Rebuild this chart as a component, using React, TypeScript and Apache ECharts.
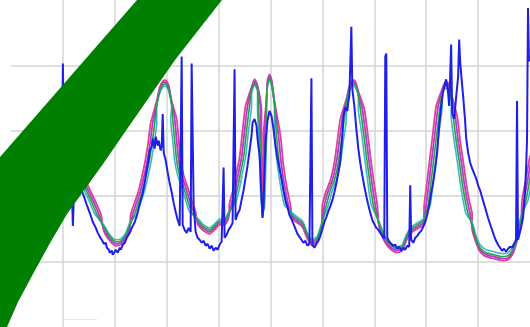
import React, { useEffect, useRef } from "react";
import * as echarts from "echarts";

type Pt = [number, number];

// Axis settings (value units)
const xMax = 520;
const xStep = 52;
const yMax = 330;
const yStep = 66;

// Outer (pink) trace
const pinkTrace: Pt[] = [
  [42,216],[52,198],[62,178],[70,160],[77,143],[84,128],[90,114],[93,97],[99,87],[105,82],
  [110,83],[115,89],[119,99],[120,114],[124,126],[128,138],[131,151],[134,165],[137,183],[140,206],
  [146,228],[149,242],[152,248],[155,249],[158,244],[161,228],[166,210],[168,188],[170,168],[173,153],
  [177,141],[181,128],[185,116],[187,104],[193,97],[199,94],[204,98],[209,103],[214,103],[218,110],
  [219,125],[223,140],[226,156],[229,171],[232,198],[235,223],[241,242],[244,250],[247,244],[251,218],
  [251,178],[252,138],[252,111],[252,120],[253,153],[253,193],[256,230],[257,249],[259,255],[261,250],
  [264,228],[270,193],[273,163],[276,143],[280,123],[282,109],[287,105],[292,101],[297,89],[302,82],
  [307,86],[311,98],[312,123],[316,138],[320,148],[324,166],[327,188],[330,210],[336,230],[339,243],
  [342,249],[345,248],[348,238],[354,220],[357,198],[360,173],[363,150],[367,123],[369,100],[375,85],
  [381,78],[387,75],[392,77],[396,87],[401,95],[407,99],[413,103],[414,123],[417,148],[420,173],
  [423,198],[426,223],[432,240],[435,247],[438,246],[441,236],[447,213],[450,188],[453,168],[456,146],
  [459,128],[462,114],[462,99],[466,85],[470,76],[476,71],[484,69],[492,67],[498,68],[503,74],
  [507,87],[511,105],[512,128],[516,150],[520,173]
];

// Magenta trace
const magentaTrace: Pt[] = [
  [40,216],[50,198],[60,178],[68,160],[75,143],[82,128],[88,114],[93,99],[99,89],[105,84],
  [110,85],[115,91],[119,101],[122,114],[126,126],[130,138],[133,151],[136,165],[139,183],[142,206],
  [146,226],[149,240],[152,246],[155,247],[158,242],[161,226],[164,210],[166,188],[168,168],[171,153],
  [175,141],[179,128],[183,116],[187,106],[193,99],[199,96],[204,100],[209,105],[214,105],[218,112],
  [221,125],[225,140],[228,156],[231,171],[234,198],[237,223],[241,240],[244,248],[247,242],[250,218],
  [250,178],[251,138],[252,113],[253,120],[254,153],[254,193],[256,228],[257,247],[259,253],[261,248],
  [264,226],[268,193],[271,163],[274,143],[278,123],[282,111],[287,107],[292,103],[297,91],[302,84],
  [307,88],[311,100],[314,123],[318,138],[322,148],[326,166],[329,188],[332,210],[336,228],[339,241],
  [342,247],[345,246],[348,236],[352,220],[355,198],[358,173],[361,150],[365,123],[369,102],[375,87],
  [381,80],[387,77],[392,79],[396,89],[401,97],[407,101],[413,105],[416,123],[419,148],[422,173],
  [425,198],[428,223],[432,238],[435,245],[438,244],[441,234],[445,213],[448,188],[451,168],[454,146],
  [457,128],[460,114],[462,101],[466,87],[470,78],[476,73],[484,71],[492,69],[498,70],[503,76],
  [507,89],[511,107],[514,128],[518,150],[522,173]
];

// Green trace
const greenTrace: Pt[] = [
  [38,216],[48,198],[58,178],[66,160],[73,143],[80,128],[86,114],[93,101],[99,91],[105,86],
  [110,87],[115,93],[119,103],[124,114],[128,126],[132,138],[135,151],[138,165],[141,183],[144,206],
  [146,224],[149,238],[152,244],[155,245],[158,240],[161,224],[162,210],[164,188],[166,168],[169,153],
  [173,141],[177,128],[181,116],[187,108],[193,101],[199,98],[204,102],[209,107],[214,107],[218,114],
  [223,125],[227,140],[230,156],[233,171],[236,198],[239,223],[241,238],[244,246],[247,240],[248,218],
  [250,178],[251,138],[252,115],[253,120],[254,153],[256,193],[256,226],[257,245],[259,251],[261,246],
  [264,224],[266,193],[269,163],[272,143],[276,123],[282,113],[287,109],[292,105],[297,93],[302,86],
  [307,90],[311,102],[316,123],[320,138],[324,148],[328,166],[331,188],[334,210],[336,226],[339,239],
  [342,245],[345,244],[348,234],[350,220],[353,198],[356,173],[359,150],[363,123],[369,104],[375,89],
  [381,82],[387,79],[392,81],[396,91],[401,99],[407,103],[413,107],[418,123],[421,148],[424,173],
  [427,198],[430,223],[432,236],[435,243],[438,242],[441,232],[443,213],[446,188],[449,168],[452,146],
  [455,128],[458,114],[462,103],[466,89],[470,80],[476,75],[484,73],[492,71],[498,72],[503,78],
  [507,91],[511,109],[516,128],[520,150],[524,173]
];

// Cyan (inner) trace
const cyanTrace: Pt[] = [
  [36,216],[46,198],[56,178],[64,160],[71,143],[78,128],[84,114],[93,103],[99,93],[105,88],
  [110,89],[115,95],[119,105],[126,114],[130,126],[134,138],[137,151],[140,165],[143,183],[146,206],
  [146,222],[149,236],[152,242],[155,243],[158,238],[161,222],[160,210],[162,188],[164,168],[167,153],
  [171,141],[175,128],[179,116],[187,110],[193,103],[199,100],[204,104],[209,109],[214,109],[218,116],
  [225,125],[229,140],[232,156],[235,171],[238,198],[241,223],[241,236],[244,244],[247,238],[247,218],
  [249,178],[250,138],[252,117],[254,120],[255,153],[256,193],[256,224],[257,243],[259,249],[261,244],
  [264,222],[264,193],[267,163],[270,143],[274,123],[282,115],[287,111],[292,107],[297,95],[302,88],
  [307,92],[311,104],[318,123],[322,138],[326,148],[330,166],[333,188],[336,210],[336,224],[339,237],
  [342,243],[345,242],[348,232],[348,220],[351,198],[354,173],[357,150],[361,123],[369,106],[375,91],
  [381,84],[387,81],[392,83],[396,93],[401,101],[407,105],[413,109],[420,123],[423,148],[426,173],
  [429,198],[432,223],[432,234],[435,241],[438,240],[441,230],[441,213],[444,188],[447,168],[450,146],
  [453,128],[456,114],[462,106],[466,92],[470,83],[476,78],[484,76],[492,74],[498,75],[503,81],
  [507,94],[511,112],[518,128],[522,150],[526,173]
];

// Noisy measured (blue) trace
const blueTrace: Pt[] = [
  [47,188],[51,178],[52,266],[53,173],[57,158],[61,138],[62,102],[63,133],
  [67,143],[72,135],[76,123],[79,115],[82,106],[85,100],[87,95],[89,91],[91,88],[93,84],
  [95,85],[96,80],[98,78],[99,75],[101,77],[102,73],[104,76],[105,78],[107,75],[109,80],
  [110,78],[112,83],[114,85],[116,90],[119,95],[121,100],[124,106],[126,112],[128,120],[130,128],
  [132,135],[134,146],[136,158],[138,170],[139,178],[141,182],[142,190],[144,180],[145,192],[147,183],
  [148,188],[150,178],[151,183],[152,215],[153,176],[155,168],[157,156],[159,145],[161,136],[163,125],
  [165,116],[167,108],[169,102],[171,273],[172,103],[174,98],[176,95],[178,100],[180,96],[181,266],
  [183,123],[185,96],[187,90],[189,88],[191,85],[193,87],[195,82],[197,84],[199,79],[201,82],
  [203,77],[205,80],[207,78],[209,83],[211,86],[213,161],[214,90],[216,93],[218,98],[220,101],
  [222,105],[224,260],[225,108],[227,114],[229,118],[231,128],[233,138],[235,150],[237,163],[239,178],
  [241,193],[242,206],[244,210],[246,203],[247,190],[249,173],[250,153],[251,130],[252,110],[253,123],
  [254,158],[255,188],[257,208],[259,218],[261,213],[263,200],[265,183],[267,170],[269,160],[271,150],
  [273,138],[275,128],[277,121],[279,113],[281,109],[283,104],[285,99],[287,94],[289,91],[291,88],
  [293,85],[295,87],[297,82],[299,84],[301,251],[302,83],[304,80],[306,84],[308,87],[310,92],
  [312,99],[314,106],[316,111],[318,117],[320,122],[322,128],[324,136],[326,145],[328,156],[330,168],
  [332,193],[333,213],[335,222],[337,218],[338,228],[339,233],[341,303],[342,240],[344,223],[346,200],
  [348,180],[350,165],[352,153],[354,142],[356,132],[358,123],[360,115],[362,108],[364,104],[366,100],
  [368,98],[370,95],[372,92],[374,89],[375,273],[376,276],[377,90],[379,86],[381,84],[383,82],
  [385,83],[387,79],[389,81],[391,77],[393,80],[395,78],[397,82],[399,81],[400,143],[401,88],
  [403,85],[405,90],[407,92],[409,95],[411,97],[413,101],[415,106],[417,113],[419,123],[421,135],
  [423,146],[425,160],[427,176],[429,203],[431,223],[433,238],[435,246],[436,250],[438,236],[439,223],
  [441,285],[442,216],[444,210],[446,232],[448,253],[449,290],[450,268],[451,256],[453,233],[455,208],
  [456,191],[458,176],[460,166],[462,160],[464,155],[466,150],[468,143],[470,138],[472,131],[474,124],
  [476,117],[478,110],[480,104],[482,98],[484,92],[486,87],[488,83],[490,80],[492,77],[494,79],
  [496,76],[498,79],[500,81],[502,80],[504,84],[506,87],[507,228],[508,88],[509,92],[511,100],
  [513,110],[514,123],[515,138],[516,158],[517,188],[518,322],[519,268]
];

// Decorative ribbon overlay outline (pixels)
const ribbon: number[][] = [
  [137, 0], [222, 0], [200, 28], [175, 60], [150, 96], [125, 132], [103, 164], [85, 189],
  [67, 214], [50, 243], [33, 274], [18, 302], [7, 327], [0, 327], [0, 157]
];

const lineSeries = (name: string, data: Pt[], color: string, width: number, z: number, smooth: number | boolean) => ({
  name,
  type: "line",
  data,
  showSymbol: false,
  symbol: "none",
  smooth,
  silent: true,
  z,
  lineStyle: { color, width },
});

export default function App() {
  const ref = useRef<HTMLDivElement>(null);
  useEffect(() => {
    if (!ref.current) return;
    const chart = echarts.init(ref.current, undefined, { renderer: "svg" });
    const split = { show: true, showMinLine: false, showMaxLine: false, lineStyle: { color: "#d4d4d4", width: 1.5 } };
    chart.setOption({
      animation: false,
      backgroundColor: "#ffffff",
      grid: { left: 11, right: -2, top: -2.5, bottom: -0.5, containLabel: false },
      xAxis: {
        type: "value", min: 0, max: xMax, interval: xStep,
        axisLine: { show: false }, axisTick: { show: false }, axisLabel: { show: false },
        splitLine: split,
      },
      yAxis: {
        type: "value", min: 0, max: yMax, interval: yStep,
        axisLine: { show: false }, axisTick: { show: false }, axisLabel: { show: false },
        splitLine: split,
      },
      series: [
        lineSeries("A", pinkTrace, "#e0409a", 1.8, 2, 0.2),
        lineSeries("B", magentaTrace, "#b03ccc", 1.8, 2, 0.2),
        lineSeries("C", cyanTrace, "#3cb8c8", 1.6, 2, 0.2),
        lineSeries("D", greenTrace, "#2e9e44", 1.6, 2, 0.2),
        lineSeries("Measured", blueTrace, "#1f1fe8", 2, 3, false),
      ],
      graphic: [
        { type: "line", shape: { x1: 63, y1: 319.5, x2: 97, y2: 319.5 }, style: { stroke: "#e6e6e6", lineWidth: 1 }, z: 50 },
        { type: "polygon", shape: { points: ribbon }, style: { fill: "#008000" }, z: 100 },
      ],
    });
    return () => chart.dispose();
  }, []);
  return <div ref={ref} style={{ position: "fixed", left: 0, top: 0, width: 530, height: 327 }} />;
}
